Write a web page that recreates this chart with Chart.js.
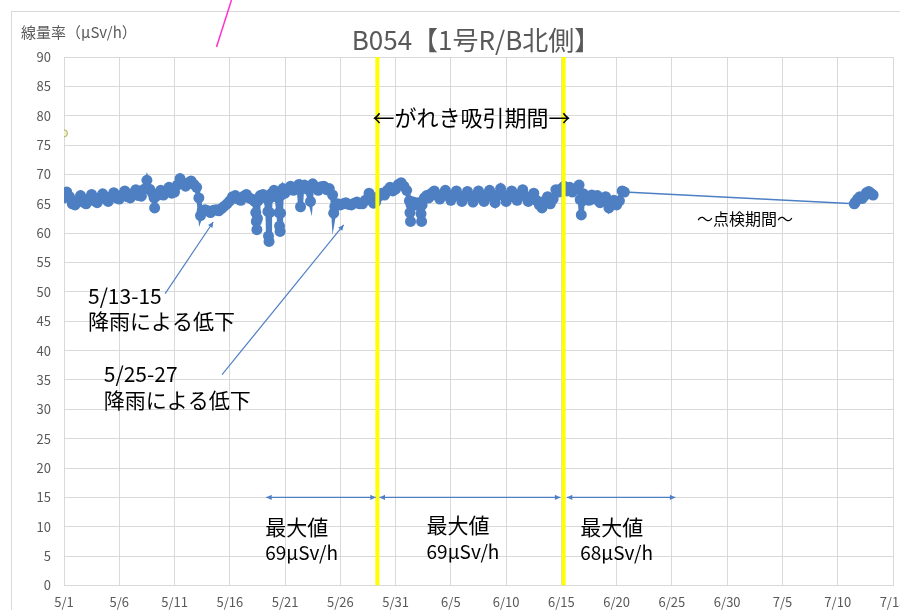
<!DOCTYPE html>
<html>
<head>
<meta charset="utf-8">
<script src="https://cdn.jsdelivr.net/npm/chart.js@4.4.1/dist/chart.umd.min.js"></script>
<style>
  html, body { margin: 0; padding: 0; background: #fff; }
  #wrap { width: 900px; height: 610px; }
</style>
</head>
<body>
<div id="wrap"><canvas id="chart"></canvas></div>
<script>
// days counted from 5/1 (0 = 5/1 00:00)
const xTickLabels = ['5/1','5/6','5/11','5/16','5/21','5/26','5/31','6/5','6/10','6/15','6/20','6/25','6/30','7/5','7/10','7/15'];

// one row per day, same layout in both arrays
const doseDays = [
  0, 0.25, 0.5, 0.75,
  1, 1.25, 1.5, 1.75,
  2, 2.25, 2.5, 2.75,
  3, 3.25, 3.5, 3.75,
  4, 4.25, 4.5, 4.75,
  5, 5.25, 5.5, 5.75,
  6, 6.25, 6.5, 6.75,
  7, 7.25, 7.5, 7.75,
  8, 8.15, 8.2, 8.25, 8.5, 8.75,
  9, 9.25, 9.5, 9.75,
  10, 10.25, 10.5, 10.75,
  11, 11.25, 11.5, 11.75,
  12, 12.2, 12.35, 12.5, 12.75,
  13, 13.25, 13.5, 13.75,
  14, 14.25, 14.5, 14.75,
  15, 15.25, 15.5, 15.75,
  16, 16.25, 16.5, 16.75,
  17, 17.25, 17.35, 17.4, 17.45, 17.5, 17.55, 17.75,
  18, 18.25, 18.45, 18.5, 18.55, 18.6, 18.65, 18.8,
  19, 19.25, 19.45, 19.5, 19.55, 19.6, 19.65, 19.8,
  20, 20.25, 20.5, 20.75,
  21, 21.25, 21.4, 21.5, 21.75,
  22, 22.3, 22.4, 22.5, 22.75,
  23, 23.25, 23.5, 23.75,
  24, 24.3, 24.4, 24.5, 24.75,
  25, 25.25, 25.5, 25.75,
  26, 26.25, 26.5, 26.75,
  27, 27.25, 27.6, 27.8,
  28, 28.2, 28.5, 28.75,
  29, 29.25, 29.5, 29.75,
  30, 30.25, 30.5, 30.75,
  31, 31.25, 31.3, 31.35, 31.4, 31.6, 31.8,
  32, 32.25, 32.3, 32.35, 32.4, 32.6, 32.8,
  33, 33.25, 33.5, 33.75,
  34, 34.25, 34.5, 34.75,
  35, 35.25, 35.5, 35.75,
  36, 36.25, 36.5, 36.75,
  37, 37.25, 37.5, 37.75,
  38, 38.25, 38.5, 38.75,
  39, 39.25, 39.5, 39.75,
  40, 40.25, 40.5, 40.75,
  41, 41.25, 41.5, 41.75,
  42, 42.25, 42.5, 42.75,
  43, 43.25, 43.5, 43.75,
  44, 44.25, 44.5, 44.75,
  45, 45.25, 45.5, 45.75,
  46, 46.3, 46.6, 46.7, 46.8, 46.9,
  47, 47.25, 47.5, 47.75,
  48, 48.25, 48.5, 48.75,
  49, 49.3, 49.5, 49.75,
  50, 50.25, 50.5, 50.7,
  71.5, 71.6, 71.8, 72.0, 72.2, 72.4, 72.6, 72.8, 73.0, 73.2
];
const doseValues = [
  66.0, 67.0, 66.2, 65.0,
  64.8, 65.5, 66.4, 65.3,
  65.0, 65.8, 66.6, 65.5,
  65.2, 66.0, 66.7, 65.8,
  65.4, 66.2, 66.9, 66.0,
  65.8, 66.5, 67.2, 66.2,
  66.0, 66.8, 67.4, 66.4,
  66.3, 67.5, 69.0, 67.5,
  66.8, 66.0, 64.3, 66.2, 66.5, 67.3,
  66.5, 67.0, 67.8, 66.8,
  67.0, 68.2, 69.3, 68.5,
  68.0, 68.6, 68.9, 68.3,
  67.8, 66.0, 63.0, 63.8, 64.0,
  63.8, 63.5, 63.9, 64.0,
  63.8, 64.2, 64.6, 65.0,
  65.5, 66.2, 66.4, 65.8,
  65.6, 66.3, 66.6, 66.0,
  65.8, 65.4, 63.5, 62.0, 60.6, 62.5, 65.5, 66.4,
  66.6, 66.0, 63.7, 59.5, 58.6, 63.5, 66.0, 66.8,
  67.3, 66.2, 63.5, 61.2, 60.3, 63.4, 66.5, 67.6,
  66.8, 67.5, 68.0, 67.3,
  67.8, 68.3, 64.5, 67.6, 68.2,
  67.5, 65.4, 67.8, 68.4, 67.8,
  67.3, 67.9, 68.0, 67.4,
  67.6, 66.5, 63.4, 64.5, 65.0,
  64.8, 65.0, 65.2, 64.9,
  64.8, 65.1, 65.3, 65.0,
  65.0, 65.6, 66.8, 66.2,
  65.1, 65.3, 66.3, 66.8,
  66.5, 67.3, 67.8, 67.2,
  67.5, 68.3, 68.6, 68.0,
  67.3, 65.5, 63.5, 62.0, 64.8, 65.3, 64.8,
  65.2, 64.5, 63.3, 62.0, 64.8, 66.0, 66.4,
  66.0, 66.8, 67.2, 66.5,
  65.8, 66.6, 67.3, 66.4,
  65.6, 66.5, 67.2, 66.3,
  65.4, 66.3, 67.1, 66.2,
  65.3, 66.4, 67.2, 66.0,
  65.4, 66.6, 67.3, 66.2,
  65.2, 66.5, 67.6, 66.4,
  65.4, 66.5, 67.2, 66.1,
  65.6, 66.6, 67.4, 66.3,
  65.4, 66.2, 66.8, 65.6,
  64.8, 64.3, 65.5, 66.2,
  65.0, 65.8, 67.4, 67.0,
  67.6, 68.0, 67.2, 67.8,
  67.0, 67.6, 68.2, 65.7, 63.1, 65.5,
  66.7, 66.2, 65.6, 66.5,
  65.8, 66.4, 65.2, 65.9,
  66.2, 64.3, 65.0, 65.6,
  64.8, 65.5, 67.2, 67.0,
  65.0, 65.3, 65.8, 66.2, 65.9, 66.3, 66.9, 67.1, 66.8, 66.5
];

// single stray reading on 5/1
const strayDays = [0.0];
const strayValues = [77.0];

// start/end of the rubble suction period
const suctionLineDays = [28.35, 45.2];

const FONT_JP = '"Noto Sans CJK JP", "Noto Sans", sans-serif';
const GRID = '#d9d9d9';
const BLUE = '#4d7fc2';

const toPoints = (xs, ys) => xs.map((x, i) => ({ x: x, y: ys[i] }));

// title, frame, arrows and notes drawn on top using the chart scales
const notesPlugin = {
  id: 'notes',
  beforeDraw(chart) {
    const ctx = chart.ctx;
    ctx.save();
    ctx.strokeStyle = GRID;
    ctx.lineWidth = 1;
    ctx.strokeRect(11.5, 11.5, 900, 610);
    ctx.restore();
  },
  afterDatasetsDraw(chart) {
    const ctx = chart.ctx;
    const xs = chart.scales.x, ys = chart.scales.y;
    const px = v => xs.getPixelForValue(v);
    const py = v => ys.getPixelForValue(v);

    ctx.save();
    // titles
    ctx.fillStyle = '#595959';
    ctx.textBaseline = 'middle';
    ctx.font = '26px ' + FONT_JP;
    ctx.textAlign = 'center';
    ctx.fillText('B054【1号R/B北側】', 476, 40);
    ctx.font = '15px ' + FONT_JP;
    ctx.textAlign = 'left';
    ctx.fillText('線量率（μSv/h）', 21, 32);

    // stray pink stroke at the top
    ctx.strokeStyle = '#ff33cc';
    ctx.lineWidth = 1.5;
    ctx.beginPath();
    ctx.moveTo(231.5, 0);
    ctx.lineTo(216.5, 47);
    ctx.stroke();

    // arrows
    const arrowHead = (x1, y1, x2, y2) => {
      const a = Math.atan2(y2 - y1, x2 - x1);
      const s = 6;
      ctx.beginPath();
      ctx.moveTo(x2, y2);
      ctx.lineTo(x2 - s * Math.cos(a - 0.45), y2 - s * Math.sin(a - 0.45));
      ctx.lineTo(x2 - s * Math.cos(a + 0.45), y2 - s * Math.sin(a + 0.45));
      ctx.closePath();
      ctx.fill();
    };
    const arrow = (d1, v1, d2, v2, both) => {
      const x1 = px(d1), y1 = py(v1), x2 = px(d2), y2 = py(v2);
      ctx.beginPath();
      ctx.moveTo(x1, y1);
      ctx.lineTo(x2, y2);
      ctx.stroke();
      arrowHead(x1, y1, x2, y2);
      if (both) arrowHead(x2, y2, x1, y1);
    };
    ctx.strokeStyle = '#4f7fc4';
    ctx.fillStyle = '#4f7fc4';
    ctx.lineWidth = 1.2;
    arrow(9.15, 49.7, 13.5, 61.9, false);
    arrow(14.3, 35.9, 25.3, 61.4, false);
    arrow(18.3, 15, 28.2, 15, true);
    arrow(28.55, 15, 44.9, 15, true);
    arrow(45.5, 15, 55.3, 15, true);

    // notes
    ctx.fillStyle = '#000';
    ctx.textAlign = 'left';
    ctx.font = '22px ' + FONT_JP;
    ctx.fillText('←がれき吸引期間→', px(27.9), py(79.6));
    ctx.font = '16px ' + FONT_JP;
    ctx.textAlign = 'center';
    ctx.fillText('～点検期間～', px(61.6), py(62.4));

    ctx.textAlign = 'left';
    ctx.font = '21px ' + FONT_JP;
    ctx.fillText('5/13-15', px(2.17), py(49.3));
    ctx.fillText('降雨による低下', px(2.17), py(45.1));
    ctx.fillText('5/25-27', px(3.6), py(36.0));
    ctx.fillText('降雨による低下', px(3.6), py(31.6));

    const maxNotes = [[18.2, 10.0, '69μSv/h'], [32.8, 10.3, '69μSv/h'], [46.7, 10.0, '68μSv/h']];
    maxNotes.forEach(([d, v, t]) => {
      ctx.font = '21px ' + FONT_JP;
      ctx.fillText('最大値', px(d), py(v));
      ctx.font = '19px ' + FONT_JP;
      ctx.fillText(t, px(d), py(v - 4.5));
    });
    ctx.restore();
  }
};

new Chart(document.getElementById('chart'), {
  type: 'scatter',
  data: {
    datasets: [
      {
        label: 'B054',
        data: toPoints(doseDays, doseValues),
        showLine: true,
        borderColor: BLUE,
        backgroundColor: BLUE,
        borderWidth: 5,
        pointRadius: 5.5,
        pointBorderWidth: 0,
        pointHoverRadius: 5.5,
        segment: {
          // the long gap (inspection period) is only a thin connector
          borderWidth: c => (c.p1.parsed.x - c.p0.parsed.x > 5 ? 1.5 : 5)
        }
      },
      {
        label: 'stray',
        data: toPoints(strayDays, strayValues),
        borderColor: '#a8ae62',
        backgroundColor: '#eef0c4',
        borderWidth: 1,
        pointRadius: 3.5
      },
      ...suctionLineDays.map(d => ({
        label: 'suction ' + d,
        data: [{ x: d, y: 0 }, { x: d, y: 90 }],
        showLine: true,
        borderColor: '#ffff00',
        borderWidth: 4,
        pointRadius: 0,
        order: -1
      }))
    ]
  },
  options: {
    responsive: true,
    maintainAspectRatio: false,
    animation: false,
    layout: { padding: { left: 0, top: 57, right: 7, bottom: 0 } },
    scales: {
      x: {
        type: 'linear',
        min: 0,
        max: 75,
        grid: { color: GRID, drawTicks: false },
        border: { color: GRID },
        ticks: {
          stepSize: 5,
          padding: 9,
          maxRotation: 0,
          autoSkip: false,
          color: '#595959',
          font: { family: FONT_JP, size: 13 },
          callback: v => xTickLabels[Math.round(v / 5)]
        },
        afterFit: s => { s.height = 24.5; s.paddingLeft = 0; s.paddingRight = 0; }
      },
      y: {
        min: 0,
        max: 90,
        grid: { color: GRID, drawTicks: false },
        border: { color: GRID },
        ticks: {
          stepSize: 5,
          padding: 13,
          color: '#595959',
          font: { family: FONT_JP, size: 13 }
        },
        afterFit: s => { s.width = 64; }
      }
    },
    plugins: {
      legend: { display: false },
      tooltip: { enabled: false }
    }
  },
  plugins: [notesPlugin]
});
</script>
</body>
</html>
